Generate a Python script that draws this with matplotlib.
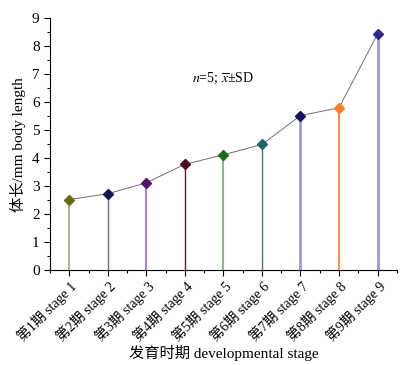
import numpy as np
import matplotlib.pyplot as plt
from matplotlib.ticker import MultipleLocator

plt.rcParams['font.family'] = ['Liberation Serif', 'Noto Sans CJK SC']
plt.rcParams['mathtext.fontset'] = 'stix'

stages = ['第1期 stage 1', '第2期 stage 2', '第3期 stage 3', '第4期 stage 4', '第5期 stage 5',
          '第6期 stage 6', '第7期 stage 7', '第8期 stage 8', '第9期 stage 9']
length = [2.52, 2.73, 3.12, 3.78, 4.12, 4.49, 5.52, 5.80, 8.43]
marker_colors = ['#6b6b14', '#12124f', '#4f136b', '#4a0c1c', '#1f6b1f',
                 '#1f6663', '#14145e', '#ff7a26', '#2e2a8c']
stem_colors = ['#a8a878', '#6a6a90', '#a888c0', '#5a2030', '#90b890',
               '#3c7a78', '#9a9ad0', '#ff7a26', '#9a98d0']
stem_widths = [1.2, 1.0, 1.5, 1.0, 1.5, 1.0, 2.0, 1.2, 2.0]

x = np.arange(1, len(stages) + 1)

fig = plt.figure(figsize=(4.08, 3.65), dpi=100)
ax = fig.add_axes([0.1225, 0.26, 0.85, 0.69])

ax.plot(x, length, color='#707070', lw=0.7, zorder=2)
for i in range(len(x)):
    ax.vlines(x[i], 0, length[i], color=stem_colors[i], lw=stem_widths[i], zorder=1)
    ax.plot(x[i], length[i], 'D', color=marker_colors[i], ms=5.5, zorder=3)

ax.set_xlim(0.5, 9.5)
ax.set_ylim(0, 9)
ax.set_xticks(x)
ax.set_xticklabels(stages, rotation=45, ha='right', rotation_mode='anchor', fontsize=10)
ax.xaxis.set_minor_locator(MultipleLocator(0.5))
ax.yaxis.set_major_locator(MultipleLocator(1))
ax.yaxis.set_minor_locator(MultipleLocator(0.5))
ax.tick_params(axis='y', labelsize=11)
ax.tick_params(axis='x', pad=2)
ax.tick_params(which='major', length=4, width=0.8, direction='out')
ax.tick_params(which='minor', length=2.5, width=0.8, direction='out')
ax.spines['top'].set_visible(False)
ax.spines['right'].set_visible(False)

ax.set_ylabel('体长/mm body length', fontsize=11, labelpad=4)
ax.set_xlabel('发育时期 developmental stage', fontsize=11, labelpad=1)
ax.text(5.0, 6.85, r'$n$=5; $\overline{x}$±SD', fontsize=10, ha='center', va='center')

fig.savefig('out.png', dpi=100)
